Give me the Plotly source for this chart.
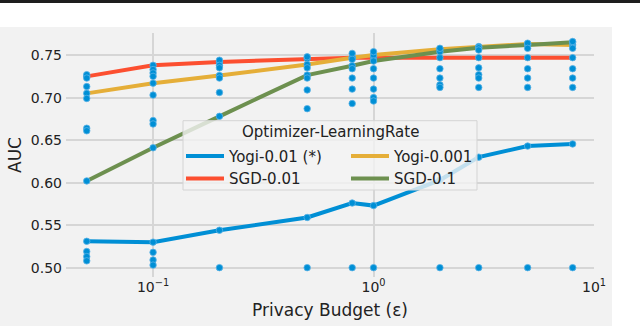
import plotly.graph_objects as go

# privacy budget (epsilon) values on the x axis
budget = [0.05, 0.1, 0.2, 0.5, 0.8, 1.0, 2.0, 3.0, 5.0, 8.0]

# mean AUC per optimizer / learning rate
yogi_001 = [0.531, 0.530, 0.544, 0.559, 0.576, 0.573, 0.603, 0.630, 0.643, 0.6455]
sgd_001 = [0.725, 0.738, 0.742, 0.746, 0.747, 0.747, 0.747, 0.747, 0.747, 0.747]
yogi_0001 = [0.705, 0.717, 0.726, 0.739, 0.747, 0.750, 0.757, 0.760, 0.763, 0.762]
sgd_01 = [0.602, 0.641, 0.678, 0.7265, 0.7375, 0.743, 0.754, 0.7586, 0.762, 0.765]

# remaining individual runs at each budget (blue dots)
other_runs = [
    [0.727, 0.723, 0.713, 0.699, 0.664, 0.661, 0.519, 0.513, 0.508],
    [0.733, 0.729, 0.725, 0.703, 0.673, 0.669, 0.518, 0.509, 0.503],
    [0.744, 0.738, 0.735, 0.723, 0.706, 0.500],
    [0.748, 0.735, 0.723, 0.709, 0.687, 0.500],
    [0.752, 0.745, 0.734, 0.723, 0.710, 0.693, 0.500],
    [0.754, 0.734, 0.723, 0.710, 0.700, 0.696, 0.500],
    [0.758, 0.734, 0.723, 0.715, 0.712, 0.500],
    [0.756, 0.735, 0.727, 0.723, 0.712, 0.500],
    [0.764, 0.758, 0.734, 0.723, 0.712, 0.500],
    [0.766, 0.758, 0.734, 0.723, 0.712, 0.500],
]

series = [
    ("Yogi-0.01 (*)", yogi_001, "#008fd5", "legend"),
    ("SGD-0.01", sgd_001, "#fc4f30", "legend"),
    ("Yogi-0.001", yogi_0001, "#e5ae38", "legend2"),
    ("SGD-0.1", sgd_01, "#6d904f", "legend2"),
]

dot_x = []
dot_y = []
for i, b in enumerate(budget):
    for _, vals, _, _ in series:
        dot_x.append(b)
        dot_y.append(vals[i])
    for v in other_runs[i]:
        dot_x.append(b)
        dot_y.append(v)

font = "DejaVu Sans"
fig = go.Figure()

for name, vals, color, lg in series:
    fig.add_trace(go.Scatter(
        x=budget, y=vals, mode="lines", name=name,
        line=dict(color=color, width=4),
        legend=lg
    ))

fig.add_trace(go.Scatter(
    x=dot_x, y=dot_y, mode="markers", showlegend=False,
    marker=dict(color="#008fd5", size=6.5,
                line=dict(color="#5ab3e6", width=0.8))
))

# grey figure background (cropped figure) + dark rule at the very top
fig.add_shape(type="rect", xref="paper", yref="paper",
              x0=-0.125, x1=1.0341, y0=-0.2008, y1=1.0246,
              fillcolor="#f2f2f2", line=dict(width=0), layer="below")
fig.add_shape(type="rect", xref="paper", yref="paper",
              x0=-0.13, x1=1.09, y0=1.123, y1=1.14,
              fillcolor="#1e1e1e", line=dict(width=0), layer="above")

# legend frame and title
fig.add_shape(type="rect", xref="paper", yref="paper",
              x0=0.2216, x1=0.7784, y0=0.3566, y1=0.6406,
              fillcolor="rgba(242,242,242,0.8)",
              line=dict(color="#d4d4d4", width=1), layer="above")
fig.add_annotation(text="Optimizer-LearningRate", xref="paper", yref="paper",
                   x=0.5, y=0.5955, showarrow=False,
                   font=dict(family=font, size=15, color="#222"))

legend_style = dict(y=0.5625, xanchor="left", yanchor="top",
                    bgcolor="rgba(0,0,0,0)", borderwidth=0, itemwidth=38,
                    font=dict(family=font, size=15, color="#222"))

fig.update_layout(
    width=640, height=326,
    margin=dict(l=66, r=46, t=33, b=49),
    paper_bgcolor="white",
    plot_bgcolor="#f2f2f2",
    font=dict(family=font, size=14, color="#222"),
    legend=dict(x=0.2178, **legend_style),
    legend2=dict(x=0.5303, **legend_style),
)

fig.update_xaxes(
    type="log", range=[-1.395, 1.0], automargin=False,
    tickvals=[0.1, 1, 10],
    ticktext=["10<sup>\u22121</sup>", "10<sup>0</sup>", "10<sup>1</sup>"],
    showgrid=True, gridcolor="#d6d6d6", gridwidth=1.5,
    zeroline=False, showline=False, ticks="",
    title=dict(text="Privacy Budget (\u03b5)", font=dict(size=17), standoff=10),
)
fig.update_yaxes(
    range=[0.489, 0.776], automargin=False,
    tickvals=[0.50, 0.55, 0.60, 0.65, 0.70, 0.75],
    tickformat=".2f",
    showgrid=True, gridcolor="#d6d6d6", gridwidth=1.5,
    zeroline=False, showline=False, ticks="", ticklabelstandoff=3,
    title=dict(text="AUC", font=dict(size=17), standoff=4),
)

# drop the page's default body margin so the figure sits at the window corner
fig.write_html("out.html", config={"displayModeBar": False},
               post_script="document.body.style.margin='0px';")
